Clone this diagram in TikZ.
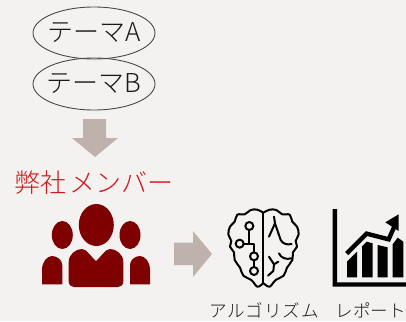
\documentclass[tikz,border=0pt]{standalone}
\usepackage{fontspec}
\newfontfamily\jp{Noto Sans CJK JP Light}
\definecolor{bgc}{HTML}{F4F2F1}
\definecolor{arrowc}{HTML}{BFB1AB}
\definecolor{darkr}{HTML}{7F0000}
\definecolor{redt}{HTML}{D0191C}
\definecolor{inkc}{HTML}{1A1A1A}
\usetikzlibrary{shapes.geometric}
\tikzset{
  theme/.style={draw=inkc!80,line width=0.9pt,ellipse,minimum width=122pt,minimum height=52pt,inner sep=0pt,font=\jp\fontsize{26}{26}\selectfont,text=inkc},
  bigarrow/.style={fill=arrowc,draw=none},
  person/.style={fill=darkr,draw=none},
  brainline/.style={draw=black,line width=2pt,line join=round,line cap=round},
  caption/.style={inner sep=0pt,font=\jp\fontsize{17.6}{18}\selectfont,text=inkc},
}
\begin{document}
\begin{tikzpicture}[x=1pt,y=-1pt]
\path[fill=bgc] (0,0) rectangle (406,321);
\useasboundingbox (0,0) rectangle (406,321);
\node[theme] (ta) at (94,33) {\makebox[0pt][c]{テーマA}};
\node[theme] (tb) at (94,84) {\makebox[0pt][c]{テーマB}};
\path[bigarrow] (83,119)--(106,119)--(106,138)--(118,138)--(95,157)--(72,138)--(83,138)--cycle;
\node[inner sep=0pt,text=redt,font=\jp\fontsize{26}{26}\selectfont] (mem) at (94,183) {弊社\hspace{4pt}メンバー};
% people
\fill[person] (96.3,225) ellipse (17.5 and 21);
\fill[person] (62.3,235) ellipse (10.5 and 14);
\fill[person] (130,235) ellipse (10.5 and 14);
\path[person] (68.7,281) -- (68.7,262) .. controls (68.7,254) and (76,249) .. (82,249) .. controls (87,249) and (91,257) .. (96,261) .. controls (101,257) and (105,249) .. (110,249) .. controls (116,249) and (123.3,254) .. (123.3,262) -- (123.3,281) .. controls (123.3,285) and (121,287) .. (118,287) -- (74,287) .. controls (71,287) and (68.7,285) .. (68.7,281) -- cycle;
\path[person] (42,284.3) -- (42,270) .. controls (42,262) and (47,256) .. (52,256) .. controls (57,256) and (62.3,260) .. (62.3,265) -- (62.3,284.3) -- cycle;
\path[person] (150,284.3) -- (150,270) .. controls (150,262) and (145,256) .. (140,256) .. controls (135,256) and (130,260) .. (130,265) -- (130,284.3) -- cycle;
% right arrow
\path[bigarrow] (174,242.5)--(193,242.5)--(193,231)--(212,254)--(193,277)--(193,265)--(174,265)--cycle;
% brain
\begin{scope}[shift={(224,205)},x=0.3333pt,y=-0.3333pt]
\draw[brainline] plot[smooth,tension=0.6] coordinates {(116,22)(100,14)(80,15)(62,28)(40,29)(32,50)(18,65)(13,88)(22,108)(18,125)(30,142)(32,165)(48,188)(58,212)(82,225)(100,245)(116,236)};
\draw[brainline] plot[smooth,tension=0.6] coordinates {(120,22)(137,14)(157,15)(175,28)(197,29)(205,50)(219,65)(224,88)(215,108)(219,125)(207,142)(205,165)(189,188)(179,212)(155,225)(137,245)(120,236)};
\draw[brainline] (118,22)--(118,236);
\draw[brainline] (76,63) circle (12);
\draw[brainline] (47,116) circle (12);
\draw[brainline] (90,154) circle (12);
\draw[brainline] (90,198) circle (12);
\draw[brainline] (76,75)--(76,116)--(59,116);
\draw[brainline] (76,116)--(90,116)--(90,142);
\draw[brainline] (90,166)--(90,186);
\draw[brainline] (150,35)--(153,55)--(135,95);
\draw[brainline] (153,55)--(170,105) .. controls (178,118) and (190,120) .. (203,117);
\draw[brainline] (165,145) .. controls (170,158) and (185,165) .. (203,160);
\draw[brainline] (135,155)--(150,178)--(163,170);
\draw[brainline] (150,178)--(148,198)--(132,212);
\end{scope}
% chart
\begin{scope}[shift={(326,205)},x=0.3333pt,y=-0.3333pt]
\fill[black] (20,12)--(33,12)--(33,232)--(240,232)--(240,245)--(20,245)--cycle;
\fill[black] (63,217)--(63,170)--(93,140)--(93,217)--cycle;
\fill[black] (108,217)--(108,124)--(122,110)--(140,115)--(140,217)--cycle;
\fill[black] (155,217)--(155,120)--(185,127)--(185,217)--cycle;
\fill[black] (200,217)--(200,118)--(215,98)--(232,110)--(232,217)--cycle;
\draw[black,line width=4.4pt,line join=miter] (62,146)--(122,86)--(188,103)--(205,65);
\fill[black] (178,52)--(218,28)--(218,78)--cycle;
\end{scope}
\node[caption,anchor=west] (alg) at (209,310) {\addfontfeature{LetterSpace=5}アルゴリズム};
\node[caption,anchor=west] (rep) at (335.5,310) {レポート};
\end{tikzpicture}
\end{document}
